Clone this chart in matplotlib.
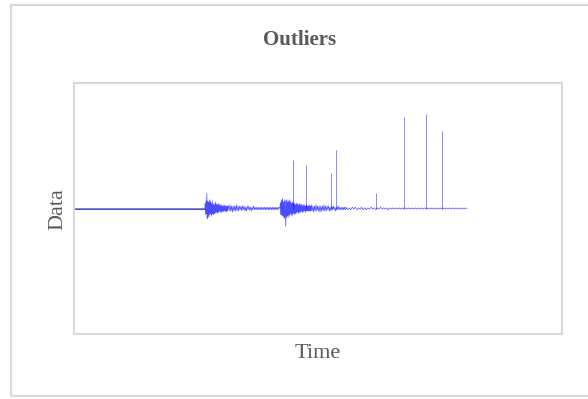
import matplotlib
matplotlib.use("Agg")
import matplotlib.pyplot as plt
import numpy as np

# time runs 0..1000 on the data, values in hundredths of the half y-range
burst1_start = 333
burst1 = [0, 4, -5, 6, -4, 12, -8, 6, -6, 5, -7, 6, -5, 7, -4, 5, -6, 4, -5, 6,
          -4, 3, -5, 4, -4, 3, -4, 5, -3, 4, -3, 3, -4, 3, -3, 4, -3, 3, -2, 3,
          -3, 2, -3, 3, -2, 2, -3, 2, -2, 3, -2, 2, -2, 2, -3, 2, -2, 2, -2, 2]
fuzz1_start = 393
fuzz1 = [2, -2, 3, -2, 2, -3, 2, -2, 2, -2, 3, -2, 2, -2, 2, -1, 2, -2, 2, -1,
         2, -2, 1, -2, 2, -1, 2, -1, 1, -2, 1, -1, 2, -1, 1, -1, 1, -1, 1, -1,
         1, -1, 1, -1, 1, -1, 1, -1, 1, -1, 1, -1, 1, -1, 1, -1, 1, -1, 1, -1,
         1, -1, 1, -1, 1]
burst2_start = 524
burst2 = [0, 4, -5, 6, -5, 7, -6, 8, -6, 5, -7, 6, -8, 7, -5, -14, 6, -7, 7, -6,
          5, -7, 6, -5, 7, -6, 5, -4, 6, -5, 4, -6, 5, -4, 5, -4, 4, -5, 4, -4,
          3, -4, 4, -3, 4, -3, 3, -4, 3, -3, 4, -3, 3, -3, 3, -2, 3, -3, 2, -3,
          3, -2, 3, -2, 2, -3, 2, -2, 3, -2, 2, -2, 2, -2, 3, -2, 2, -2, 2, -2]
fuzz2_start = 604
fuzz2 = [3, -2, 2, -3, 2, -2, 3, -2, 2, -2, 2, -3, 2, -2, 2, -2, 3, -2, 2, -2,
         2, -1, 2, -2, 1, -2, 2, -1, 2, -1, 1, -2, 1, -1, 2, -1, 1, -1, 1, -1,
         1, -1, 1, -1]
quiet2_start = 692
quiet2 = [1, -1, 0.5, -1, 1, -0.5, 1, -1, 0.5, -0.5, 1, -1, 0.5, -1, 0.5, -0.5,
          1, -0.5, 0.5, -1, 0.5, -0.5, 1, -0.5, 0.5, -0.5, 0.5, -1, 0.5, -0.5,
          0.5, -0.5, 0.5, -0.5, 0.5, -0.5, 0.5, -0.5, 0.5, -0.5, 0.5, -0.5, 0.5,
          -0.5, 0.5, -0.5, 0.5, -0.5, 0.5, -0.5, 0.5, -0.5, 0.5, -0.5, 0.5, -0.5,
          0.5, -0.5, 0.5, -0.5, 0.5, -0.5, 0.5, -0.5, 0.5, -0.5, 0.5, -0.5, 0.5,
          -0.5, 0.5, -0.5, 0.5, -0.5, 0.5, -0.5, 0.5]
t_end = 1000

spike_t = [558, 591, 655, 667, 768, 839, 896, 937]
spike_h = [39, 35, 28, 47, 12, 73, 75, 62]

# assemble the series from the segments
segments = [(burst1_start, burst1, 1), (fuzz1_start, fuzz1, 2),
            (burst2_start, burst2, 1), (fuzz2_start, fuzz2, 2),
            (quiet2_start, quiet2, 4)]
t = [0.0]
y = [0.0]
for start, vals, step in segments:
    if start > t[-1] + 1:
        t.append(start)
        y.append(0.0)
    for i, v in enumerate(vals):
        t.append(start + i * step)
        y.append(v)
t.append(t_end)
y.append(0.0)
t = np.array(t)
y = np.array(y) / 100.0

fig = plt.figure(figsize=(5.88, 3.99), dpi=100)
fig.patch.set_facecolor("white")

# outer frame
fig.add_artist(plt.Rectangle((11 / 588, 3 / 399), 1.0, 391 / 399,
                             transform=fig.transFigure, fill=False,
                             edgecolor="#d9d9d9", linewidth=1.5))

ax = fig.add_axes([74 / 588, 1 - 334 / 399, 488 / 588, 251 / 399])
ax.plot(t, y, color="#0000ff", linewidth=0.5, alpha=0.7)
ax.plot([0, burst1_start], [0, 0], color="#00008b", linewidth=0.5)
ax.vlines(spike_t, 0, np.array(spike_h) / 100.0, color="#0000ff",
          linewidth=0.5, alpha=0.65)
ax.set_xlim(0, 1242)
ax.set_ylim(-1, 1)
ax.set_xticks([])
ax.set_yticks([])
for s in ax.spines.values():
    s.set_color("#d9d9d9")
    s.set_linewidth(1.5)

fig.text(300 / 588, 1 - 40 / 399, "Outliers", ha="center", va="center",
         fontsize=15, fontweight="bold", color="#595959", family="Liberation Serif")
fig.text(318 / 588, 1 - 353 / 399, "Time", ha="center", va="center",
         fontsize=16, color="#595959", family="Liberation Serif")
fig.text(58 / 588, 1 - 209 / 399, "Data", ha="center", va="center", rotation=90,
         fontsize=16, color="#595959", family="Liberation Serif")

fig.savefig("out.png", dpi=100)
